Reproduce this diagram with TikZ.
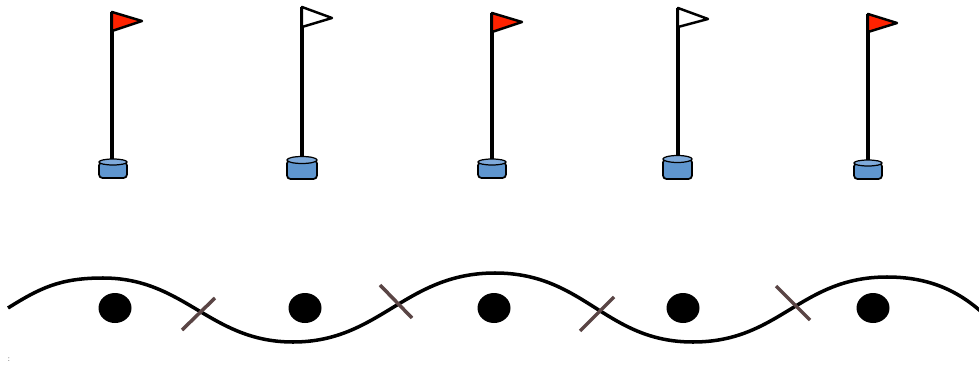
\documentclass[tikz,border=0pt]{standalone}
\usepackage{tikz}
\definecolor{flagred}{HTML}{FF2200}
\definecolor{cupblue}{HTML}{5F96CF}
\definecolor{rimblue}{HTML}{7FAADA}
\definecolor{markbrown}{HTML}{5A4545}

\begin{document}
\begin{tikzpicture}[x = .02cm, y = -.02cm]
                \useasboundingbox (0,0) rectangle (979,371);
                % poles
                \draw[line width = 2pt, black] (112, 160) -- (112, 12);
                \draw[line width = 2pt, black] (302, 158) -- (302, 7);
                \draw[line width = 2pt, black] (492, 160) -- (492, 13);
                \draw[line width = 2pt, black] (678, 157) -- (678, 8);
                \draw[line width = 2pt, black] (868, 161) -- (868, 14);
                % flags
                \filldraw[line width = 1.4pt, fill = flagred, line join = round] (112, 12) -- (142, 21) -- (112, 31) -- cycle;
                \filldraw[line width = 1.4pt, fill = white, line join = round] (302, 7) -- (332, 18) -- (302, 27) -- cycle;
                \filldraw[line width = 1.4pt, fill = flagred, line join = round] (492, 13) -- (522, 22) -- (492, 32) -- cycle;
                \filldraw[line width = 1.4pt, fill = white, line join = round] (678, 8) -- (708, 19) -- (678, 27) -- cycle;
                \filldraw[line width = 1.4pt, fill = flagred, line join = round] (868, 14) -- (897, 23) -- (868, 32) -- cycle;
                % cups
                \filldraw[line width = 1pt, fill = cupblue, rounded corners = 2pt] (99, 162) rectangle (127, 178);
                \filldraw[line width = .7pt, fill = rimblue] (113, 162) ellipse (14 and 3);
                \filldraw[line width = 1pt, fill = cupblue, rounded corners = 2pt] (287, 160) rectangle (317, 179);
                \filldraw[line width = .7pt, fill = rimblue] (302, 160) ellipse (15 and 3.5);
                \filldraw[line width = 1pt, fill = cupblue, rounded corners = 2pt] (478, 162) rectangle (506, 178);
                \filldraw[line width = .7pt, fill = rimblue] (492, 162) ellipse (14 and 3);
                \filldraw[line width = 1pt, fill = cupblue, rounded corners = 2pt] (663, 159) rectangle (692, 179);
                \filldraw[line width = .7pt, fill = rimblue] (677.5, 159) ellipse (14.5 and 3.5);
                \filldraw[line width = 1pt, fill = cupblue, rounded corners = 2pt] (854, 163) rectangle (882, 179);
                \filldraw[line width = .7pt, fill = rimblue] (868, 163) ellipse (14 and 3);
                % wave
                \draw[line width = 2pt, black] (8, 308) .. controls (40, 288) and (60, 278) .. (103, 278)
                        .. controls (185, 278) and (210, 342) .. (293, 342)
                        .. controls (380, 342) and (405, 273) .. (495, 273)
                        .. controls (585, 273) and (605, 342) .. (693, 342)
                        .. controls (780, 342) and (800, 277) .. (887, 277)
                        .. controls (935, 277) and (965, 295) .. (990, 320);
                % marks
                \draw[line width = 2pt, markbrown] (182, 330) -- (215, 298);
                \draw[line width = 2pt, markbrown] (380, 285) -- (412, 318);
                \draw[line width = 2pt, markbrown] (580, 331) -- (614, 297);
                \draw[line width = 2pt, markbrown] (776, 286) -- (810, 320);
                % dots
                \fill[black] (115, 308) ellipse (16.5 and 15);
                \fill[black] (305, 308) ellipse (16.5 and 15);
                \fill[black] (494, 308) ellipse (16.5 and 15);
                \fill[black] (683, 308) ellipse (16.5 and 15);
                \fill[black] (873, 308) ellipse (16.5 and 15);
                \node[gray, font = \tiny, inner sep = 0pt] (colon) at (9, 360) {:};
            \end{tikzpicture}
\end{document}
